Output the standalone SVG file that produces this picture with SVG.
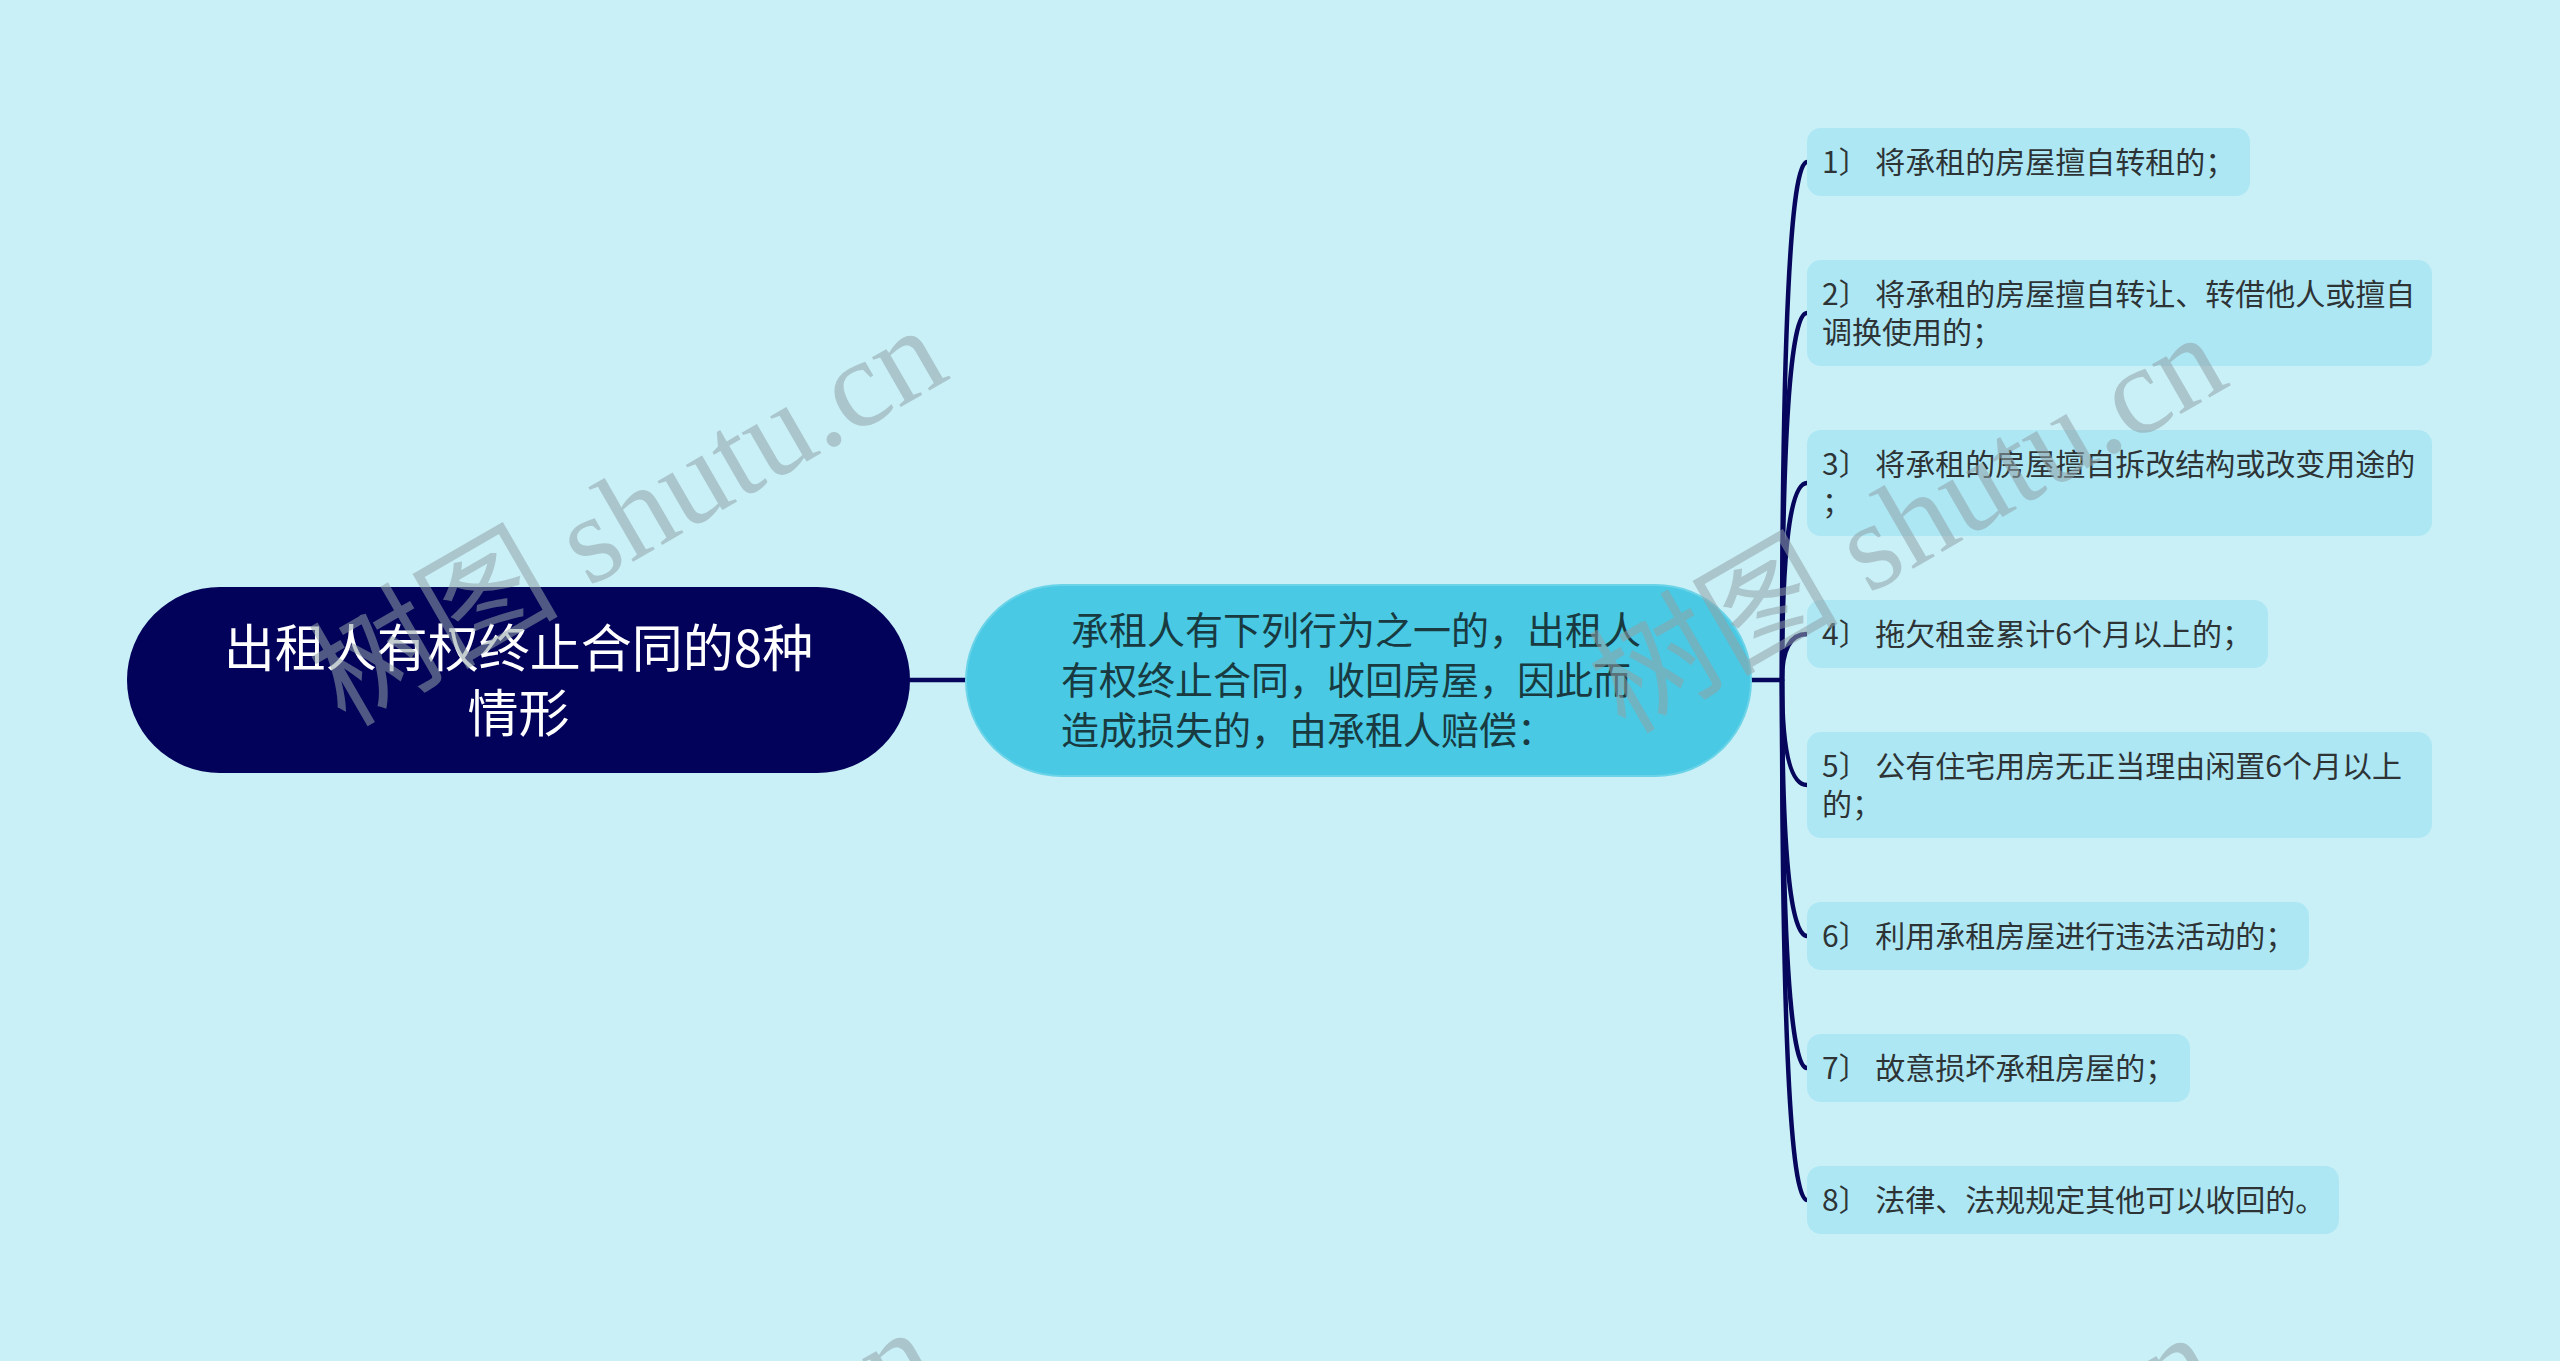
<svg xmlns="http://www.w3.org/2000/svg" width="2560" height="1361" viewBox="0 0 2560 1361">
<style>
.bg{fill:#c9f0f7}
.root{fill:#02025a}
.mid{fill:#49c9e3;stroke:#6ad3e8;stroke-width:2}
.leaf{fill:#ade7f4}
.t{font-family:'Noto Sans CJK SC','Noto Sans',sans-serif}
.rt{fill:#ffffff;font-size:51px;text-anchor:middle}
.mt{fill:#183a40;font-size:38px}
.lt{fill:#2e3436;font-size:30px}
.conn path{fill:none;stroke:#06065c;stroke-width:4.5;stroke-linecap:round}
.wm{font-family:'Liberation Serif','Noto Sans CJK SC',serif;font-size:125px;fill:#8fa3a8;fill-opacity:0.55}
</style>
<rect class="bg" x="0" y="0" width="2560" height="1361"/>
<g id="connectors" class="conn">
<path d="M910 680 H966"/>
<path d="M1751 680 H1782"/>
<path d="M1782 680 Q1782 162 1807 162"/>
<path d="M1782 680 Q1782 313 1807 313"/>
<path d="M1782 680 Q1782 483 1807 483"/>
<path d="M1782 680 Q1782 634 1807 634"/>
<path d="M1782 680 Q1782 785 1807 785"/>
<path d="M1782 680 Q1782 936 1807 936"/>
<path d="M1782 680 Q1782 1068 1807 1068"/>
<path d="M1782 680 Q1782 1200 1807 1200"/>
</g>
<g id="root">
<rect class="root" x="127" y="587" width="783" height="186" rx="93"/>
<text class="t rt" x="518.5" y="667">出租人有权终止合同的8种</text>
<text class="t rt" x="518.5" y="732">情形</text>
</g>
<g id="middle">
<rect class="mid" x="966" y="585" width="785" height="191" rx="95.5"/>
<text class="t mt" x="1071" y="644">承租人有下列行为之一的，出租人</text>
<text class="t mt" x="1061" y="694">有权终止合同，收回房屋，因此而</text>
<text class="t mt" x="1061" y="744">造成损失的，由承租人赔偿：</text>
</g>
<g id="leaf1">
<rect class="leaf" x="1807" y="128" width="443" height="68" rx="14"/>
<text class="t lt" x="1822" y="173">1〕 将承租的房屋擅自转租的；</text>
</g>
<g id="leaf2">
<rect class="leaf" x="1807" y="260" width="625" height="106" rx="14"/>
<text class="t lt" x="1822" y="305">2〕 将承租的房屋擅自转让、转借他人或擅自</text>
<text class="t lt" x="1822" y="343">调换使用的；</text>
</g>
<g id="leaf3">
<rect class="leaf" x="1807" y="430" width="625" height="106" rx="14"/>
<text class="t lt" x="1822" y="475">3〕 将承租的房屋擅自拆改结构或改变用途的</text>
<text class="t lt" x="1822" y="513">；</text>
</g>
<g id="leaf4">
<rect class="leaf" x="1807" y="600" width="461" height="68" rx="14"/>
<text class="t lt" x="1822" y="645">4〕 拖欠租金累计6个月以上的；</text>
</g>
<g id="leaf5">
<rect class="leaf" x="1807" y="732" width="625" height="106" rx="14"/>
<text class="t lt" x="1822" y="777">5〕 公有住宅用房无正当理由闲置6个月以上</text>
<text class="t lt" x="1822" y="815">的；</text>
</g>
<g id="leaf6">
<rect class="leaf" x="1807" y="902" width="502" height="68" rx="14"/>
<text class="t lt" x="1822" y="947">6〕 利用承租房屋进行违法活动的；</text>
</g>
<g id="leaf7">
<rect class="leaf" x="1807" y="1034" width="383" height="68" rx="14"/>
<text class="t lt" x="1822" y="1079">7〕 故意损坏承租房屋的；</text>
</g>
<g id="leaf8">
<rect class="leaf" x="1807" y="1166" width="532" height="68" rx="14"/>
<text class="t lt" x="1822" y="1211">8〕 法律、法规规定其他可以收回的。</text>
</g>
<g id="watermark" class="wm">
<text transform="translate(345,728) rotate(-30)">树图 shutu.cn</text>
<text transform="translate(1625,735) rotate(-30)">树图 shutu.cn</text>
<text transform="translate(335,1730) rotate(-30)">树图 shutu.cn</text>
<text transform="translate(1615,1735) rotate(-30)">树图 shutu.cn</text>
</g>
</svg>
